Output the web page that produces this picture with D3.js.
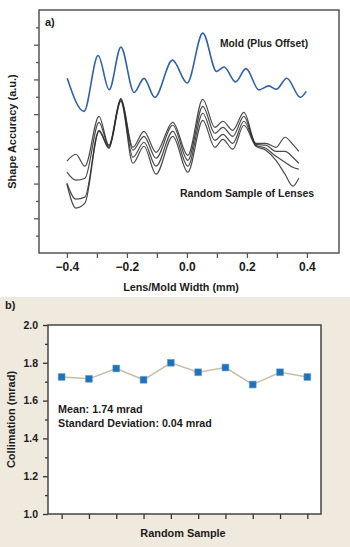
<!DOCTYPE html>
<html>
<head>
<meta charset="utf-8">
<script src="https://cdn.jsdelivr.net/npm/d3@7"></script>
<style>
  body { margin: 0; background: #fff; }
  text { font-family: "Liberation Sans", Arial, sans-serif; font-weight: bold; fill: #1c1c1c; }
</style>
</head>
<body>
<svg width="350" height="547"></svg>
<script>
'use strict';
// ---- data: panel a) (lens/mold profile, arbitrary units) ----
const mold_x = [-0.399, -0.343, -0.296, -0.259, -0.220, -0.176, -0.143, -0.107, -0.048, 0.001, 0.053,
  0.099, 0.124, 0.162, 0.197, 0.240, 0.273, 0.298, 0.333, 0.378, 0.398];
const mold_y = [10.07, 8.16, 11.38, 9.41, 11.86, 9.25, 10.06, 8.97, 11.11, 9.79, 12.67,
  10.46, 10.72, 9.86, 10.62, 9.40, 9.63, 9.43, 10.07, 8.97, 9.31];

const lens_x = [-0.400, -0.370, -0.340, -0.293, -0.260, -0.220, -0.180, -0.143, -0.103, -0.047, 0.003,
  0.053, 0.093, 0.120, 0.153, 0.190, 0.230, 0.263, 0.297, 0.327, 0.353, 0.373];
const lens_a = [5.29, 5.69, 5.00, 7.87, 6.21, 8.91, 6.09, 7.01, 5.80, 7.53, 5.63,
  8.85, 7.24, 7.59, 7.07, 8.10, 6.32, 6.32, 6.09, 6.67, 6.26, 5.86];
const lens_b = [4.66, 4.20, 4.31, 7.53, 6.15, 8.85, 5.92, 6.72, 5.46, 7.36, 5.34,
  8.45, 6.90, 7.24, 6.72, 7.87, 6.26, 6.21, 5.86, 5.86, 5.52, 5.17];
const lens_c = [4.02, 3.10, 3.22, 7.07, 6.09, 8.79, 5.52, 6.38, 5.00, 7.01, 5.00,
  8.05, 6.49, 6.84, 6.32, 7.59, 6.21, 6.03, 5.57, 5.23, 4.94, 4.83];
const lens_d = [3.97, 2.59, 2.87, 7.01, 6.03, 8.74, 5.17, 6.15, 4.54, 6.72, 4.66,
  7.64, 6.09, 6.55, 5.98, 7.36, 6.15, 5.92, 5.34, 4.54, 3.85, 4.31];

const a_x_major = [-0.4, -0.2, 0.0, 0.2, 0.4];
const a_x_minor = [-0.3, -0.1, 0.1, 0.3];
const a_y_major = [2, 4, 6, 8, 10, 12];
const a_y_minor = [1, 3, 5, 7, 9, 11, 13];

// ---- data: panel b) (collimation) ----
const samples = [1, 2, 3, 4, 5, 6, 7, 8, 9, 10];
const collimation = [1.725, 1.715, 1.770, 1.710, 1.800, 1.750, 1.775, 1.685, 1.750, 1.725];
const b_y_major = [1.0, 1.2, 1.4, 1.6, 1.8, 2.0];
const b_y_minor = [1.1, 1.3, 1.5, 1.7, 1.9];

const svg = d3.select('svg');

// backgrounds
svg.append('rect').attr('x', 0).attr('y', 0).attr('width', 350).attr('height', 297).attr('fill', '#fff');
svg.append('rect').attr('x', 0).attr('y', 297).attr('width', 350).attr('height', 250).attr('fill', '#efe9de');

// ================= panel a =================
const a = {left: 39, right: 339, top: 10, bottom: 253};
const xa = d3.scaleLinear().domain([-0.493, 0.507]).range([a.left, a.right]);
const ya = d3.scaleLinear().domain([0, 14]).range([a.bottom, a.top]);

const a_g = svg.append('g');

//axes
const a_xaxis = a_g.append('g')
  .attr('transform', `translate(0,${a.bottom})`)
  .call(d3.axisBottom(xa).tickValues(a_x_major).tickSize(5).tickPadding(4).tickFormat(d3.format('.1f')));
a_g.append('g')
  .attr('transform', `translate(0,${a.bottom})`)
  .call(d3.axisBottom(xa).tickValues(a_x_minor).tickSize(5).tickFormat(''));
a_g.append('g')
  .attr('transform', `translate(${a.left},0)`)
  .call(d3.axisLeft(ya).tickValues(a_y_major).tickSize(5).tickFormat(''));
a_g.append('g')
  .attr('transform', `translate(${a.left},0)`)
  .call(d3.axisLeft(ya).tickValues(a_y_minor).tickSize(3).tickFormat(''));
a_g.selectAll('.domain').remove();
a_g.selectAll('.tick line').attr('stroke', '#555').attr('stroke-width', 1.3);
a_xaxis.selectAll('text').attr('font-size', 12).attr('fill', '#1c1c1c');

a_g.append('rect')
  .attr('x', a.left).attr('y', a.top)
  .attr('width', a.right - a.left).attr('height', a.bottom - a.top)
  .attr('fill', 'none').attr('stroke', '#555').attr('stroke-width', 1.5);

const line_a = d3.line()
  .x(d => xa(d[0]))
  .y(d => ya(d[1]))
  .curve(d3.curveMonotoneX);

//lens curves
[lens_a, lens_b, lens_c, lens_d].forEach(series => {
  a_g.append('path')
    .datum(lens_x.map((x, i) => [x, series[i]]))
    .attr('d', line_a)
    .attr('fill', 'none')
    .attr('stroke', '#2a2a2a')
    .attr('stroke-opacity', 0.85)
    .attr('stroke-width', 1.2);
});

//mold curve
a_g.append('path')
  .datum(mold_x.map((x, i) => [x, mold_y[i]]))
  .attr('d', line_a)
  .attr('fill', 'none')
  .attr('stroke', '#3061ab')
  .attr('stroke-width', 1.6);

a_g.append('text').attr('x', 45).attr('y', 26).attr('font-size', 11).text('a)');
a_g.append('text').attr('x', 220).attr('y', 47).attr('font-size', 10.3).text('Mold (Plus Offset)');
a_g.append('text').attr('x', 180).attr('y', 197).attr('font-size', 10.5).text('Random Sample of Lenses');
a_g.append('text').attr('x', 181).attr('y', 291).attr('font-size', 10.8)
  .attr('text-anchor', 'middle').text('Lens/Mold Width (mm)');
a_g.append('text')
  .attr('transform', `translate(16,${(a.top + a.bottom) / 2}) rotate(-90)`)
  .attr('font-size', 11).attr('text-anchor', 'middle')
  .text('Shape Accuracy (a.u.)');

// ================= panel b =================
const b = {left: 48, right: 321, top: 325, bottom: 514};
const xb = d3.scaleLinear().domain([0.5, 10.5]).range([b.left, b.right]);
const yb = d3.scaleLinear().domain([1, 2]).range([b.bottom, b.top]);

const b_g = svg.append('g');

b_g.append('rect')
  .attr('x', b.left).attr('y', b.top)
  .attr('width', b.right - b.left).attr('height', b.bottom - b.top)
  .attr('fill', '#fff');

const b_yaxis = b_g.append('g')
  .attr('transform', `translate(${b.left},0)`)
  .call(d3.axisLeft(yb).tickValues(b_y_major).tickSize(5).tickPadding(5).tickFormat(d3.format('.1f')));
b_g.append('g')
  .attr('transform', `translate(${b.left},0)`)
  .call(d3.axisLeft(yb).tickValues(b_y_minor).tickSize(3).tickFormat(''));
b_g.append('g')
  .attr('transform', `translate(0,${b.bottom})`)
  .call(d3.axisBottom(xb).tickValues(samples).tickSize(5).tickFormat(''));
b_g.selectAll('.domain').remove();
b_g.selectAll('.tick line').attr('stroke', '#333').attr('stroke-width', 1.3);
b_yaxis.selectAll('text').attr('font-size', 10.5).attr('fill', '#1c1c1c');

b_g.append('rect')
  .attr('x', b.left).attr('y', b.top)
  .attr('width', b.right - b.left).attr('height', b.bottom - b.top)
  .attr('fill', 'none').attr('stroke', '#444').attr('stroke-width', 1.5);

const line_b = d3.line()
  .x((d, i) => xb(samples[i]))
  .y(d => yb(d));

b_g.append('path')
  .datum(collimation)
  .attr('d', line_b)
  .attr('fill', 'none')
  .attr('stroke', '#c8bea6')
  .attr('stroke-width', 1.5);

b_g.selectAll('.pt').data(collimation).enter()
  .append('path')
  .attr('class', 'pt')
  .attr('transform', (d, i) => `translate(${xb(samples[i])},${yb(d)})`)
  .attr('d', d3.symbol(d3.symbolSquare, 46))
  .attr('fill', '#1d72ba')
  .attr('stroke', '#5a9ad2')
  .attr('stroke-width', 0.6);

b_g.append('text').attr('x', 5).attr('y', 309).attr('font-size', 11).text('b)');
b_g.append('text').attr('x', 58).attr('y', 413).attr('font-size', 10.8).text('Mean: 1.74 mrad');
b_g.append('text').attr('x', 58).attr('y', 427).attr('font-size', 10.7).text('Standard Deviation: 0.04 mrad');
b_g.append('text').attr('x', 183).attr('y', 537).attr('font-size', 10.9)
  .attr('text-anchor', 'middle').text('Random Sample');
b_g.append('text')
  .attr('transform', `translate(15,${(b.top + b.bottom) / 2}) rotate(-90)`)
  .attr('font-size', 11).attr('text-anchor', 'middle')
  .text('Collimation (mrad)');
</script>
</body>
</html>
